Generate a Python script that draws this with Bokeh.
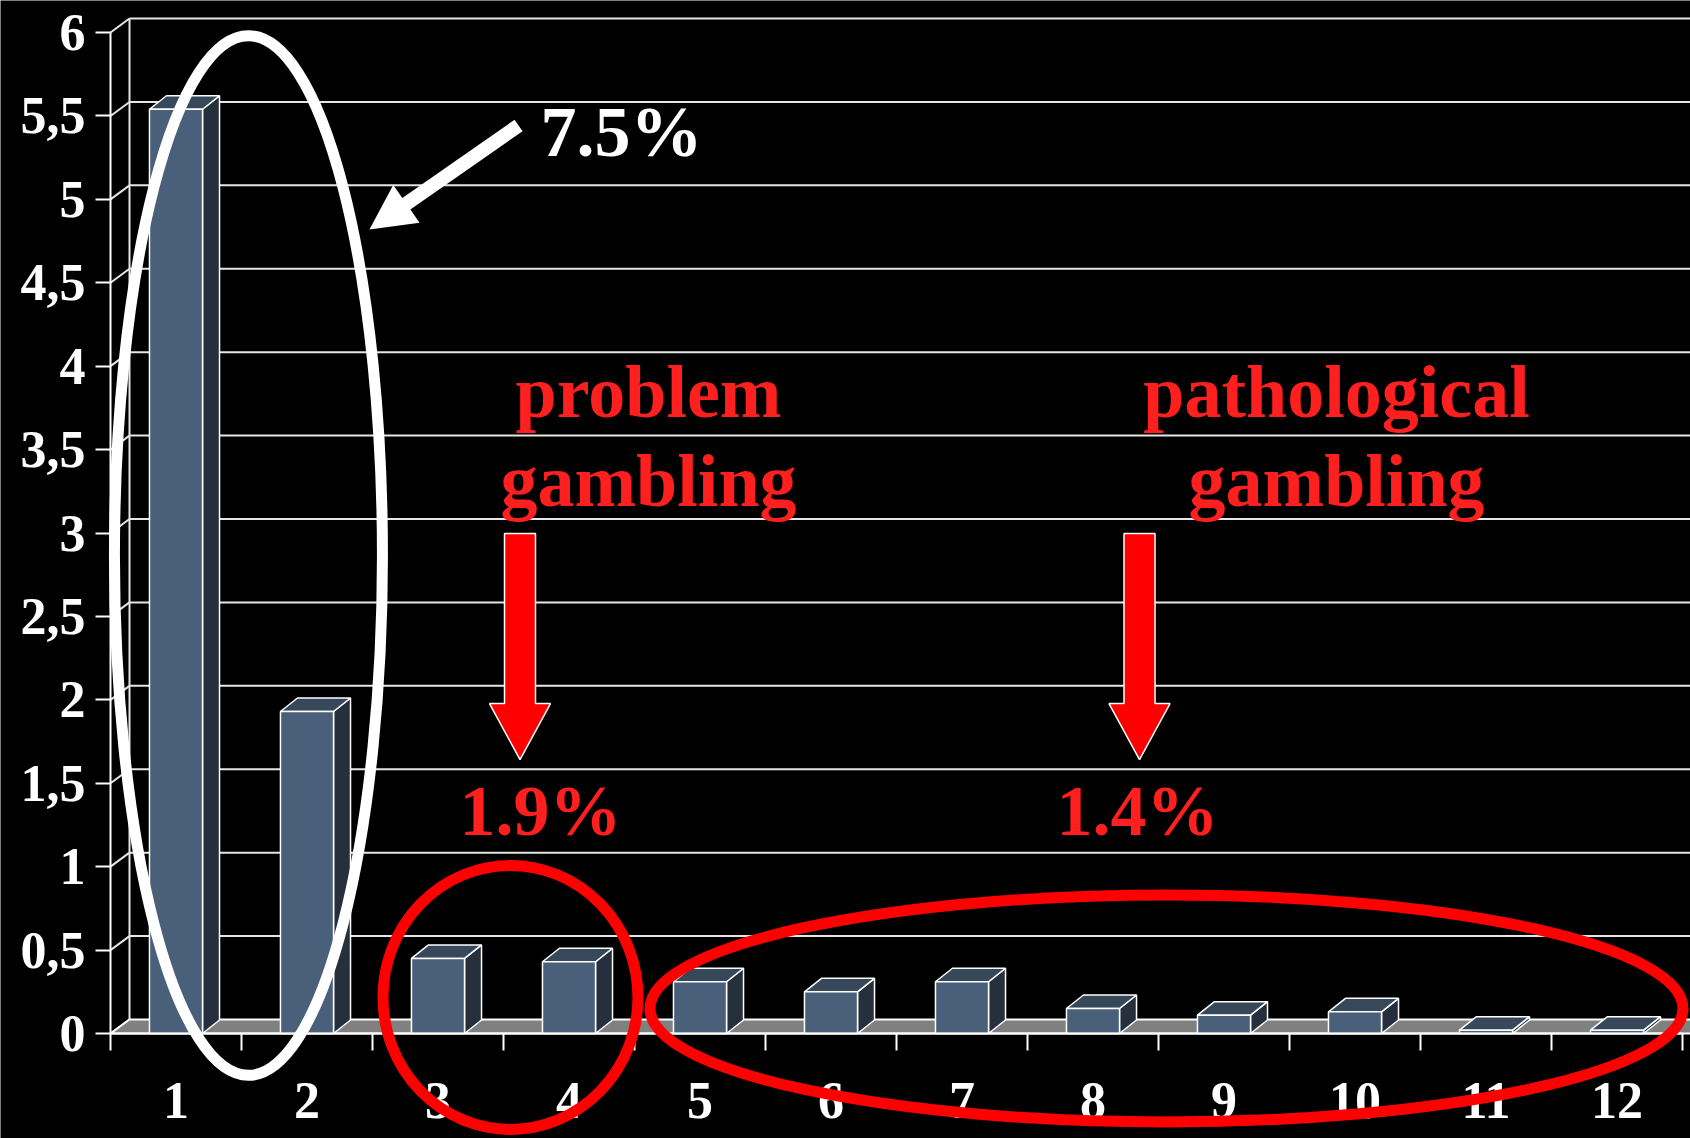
import math
from bokeh.plotting import figure
from bokeh.models import Range1d, FixedTicker, LinearAxis
from bokeh.core.properties import value
from bokeh.embed import file_html
from bokeh.resources import INLINE

# ---------------- data ----------------
categories = ["1", "2", "3", "4", "5", "6", "7", "8", "9", "10", "11", "12"]
values = [5.54, 1.93, 0.45, 0.43, 0.31, 0.25, 0.31, 0.15, 0.11, 0.13, 0.02, 0.02]
y_ticks = [0.0, 0.5, 1.0, 1.5, 2.0, 2.5, 3.0, 3.5, 4.0, 4.5, 5.0, 5.5, 6.0]
y_tick_labels = ["0", "0,5", "1", "1,5", "2", "2,5", "3", "3,5", "4", "4,5", "5", "5,5", "6"]
total_label = "7.5%"
group_titles = [["problem", "gambling"], ["pathological", "gambling"]]
group_totals = ["1.9%", "1.4%"]

# ---------------- layout / style ----------------
W, H = 1690, 1138
X0, Y0 = 110.0, 1033.0       # pixel position of x=0 / y=0
SX, SY = 131.0, 166.83       # pixels per data unit
FONT_NAME = "Liberation Serif"
FONT = value(FONT_NAME)
WALL_DX, WALL_DY = 19 / SX, 14 / SY
BAR_DX, BAR_DY = 17 / SX, 13.5 / SY
BAR_W = 0.405
GRID = "#e6e6e6"
RED = "#ff0000"
RED_TXT = "#fe1f1f"
TXT_SHIFT = 26 / SY          # baseline correction for SVG text


def to_px(x, y):
    return X0 + x * SX, Y0 - y * SY


def to_data(px, py):
    return (px - X0) / SX, (Y0 - py) / SY


p = figure(width=W, height=H,
           x_range=Range1d(-X0 / SX, (W - X0) / SX),
           y_range=Range1d(-(H - Y0) / SY, Y0 / SY),
           output_backend="svg", toolbar_location=None,
           x_axis_location=None, y_axis_location=None,
           min_border=0, outline_line_color=None,
           background_fill_color="black", border_fill_color="black")
p.grid.visible = False

n = len(categories)
x_end = (W - X0) / SX
ymax = y_ticks[-1]

# back wall gridlines
gy = [t + WALL_DY for t in y_ticks[1:]]
p.segment(x0=[WALL_DX] * len(gy), y0=gy, x1=[x_end + 1] * len(gy), y1=gy,
          line_color=GRID, line_width=2)
# left wall diagonals
p.segment(x0=[0] * len(y_ticks), y0=y_ticks,
          x1=[WALL_DX] * len(y_ticks), y1=[t + WALL_DY for t in y_ticks],
          line_color=GRID, line_width=2)
# back wall left edge
p.segment(x0=[WALL_DX], y0=[WALL_DY], x1=[WALL_DX], y1=[ymax + WALL_DY],
          line_color=GRID, line_width=2)
# floor
p.patch(x=[0, n + 1, n + 1 + WALL_DX, WALL_DX], y=[0, 0, WALL_DY, WALL_DY],
        fill_color="#808080", line_color="white", line_width=2)

# bars (3D)
centers = [i + 0.5 for i in range(n)]
side_xs, side_ys, top_xs, top_ys = [], [], [], []
for c, v in zip(centers, values):
    r = c + BAR_W / 2
    l = c - BAR_W / 2
    side_xs.append([r, r + BAR_DX, r + BAR_DX, r])
    side_ys.append([0, BAR_DY, v + BAR_DY, v])
    top_xs.append([l, r, r + BAR_DX, l + BAR_DX])
    top_ys.append([v, v, v + BAR_DY, v + BAR_DY])
p.patches(side_xs, side_ys, fill_color="#26303c", line_color="white", line_width=1.5)
p.patches(top_xs, top_ys, fill_color="#36485a", line_color="white", line_width=1.5)
p.vbar(x=centers, top=values, bottom=0, width=BAR_W,
       fill_color="#4a607a", line_color="white", line_width=1.5)

# axes
yaxis = LinearAxis(fixed_location=0, ticker=FixedTicker(ticks=y_ticks),
                   major_label_overrides={float(t): s for t, s in zip(y_ticks, y_tick_labels)},
                   bounds=(0, ymax),
                   axis_line_color="white", axis_line_width=2,
                   major_tick_out=15, major_tick_in=0,
                   major_tick_line_color="white", major_tick_line_width=2,
                   minor_tick_line_color=None,
                   major_label_text_color="white", major_label_text_font=FONT_NAME,
                   major_label_text_font_style="bold",
                   major_label_text_font_size="52px", major_label_standoff=10)
p.add_layout(yaxis, "left")

xaxis = LinearAxis(fixed_location=0,
                   ticker=FixedTicker(ticks=centers, minor_ticks=list(range(n + 1))),
                   major_label_overrides={float(c): s for c, s in zip(centers, categories)},
                   bounds=(0, n),
                   axis_line_color="white", axis_line_width=2,
                   major_tick_out=0, major_tick_in=0, major_tick_line_color=None,
                   minor_tick_out=17, minor_tick_in=0,
                   minor_tick_line_color="white", minor_tick_line_width=2,
                   major_label_text_color="white", major_label_text_font=FONT_NAME,
                   major_label_text_font_style="bold",
                   major_label_text_font_size="52px", major_label_standoff=32)
p.add_layout(xaxis, "below")

# ---------------- annotations ----------------
p.ellipse(x=[1.053], y=[2.865], width=[268], height=[1040],
          width_units="screen", height_units="screen",
          fill_color=None, line_color="white", line_width=11, level="overlay")
p.ellipse(x=[3.053, 8.061], y=[0.216, 0.150], width=[255, 1033], height=[264, 227],
          width_units="screen", height_units="screen",
          fill_color=None, line_color=RED, line_width=11, level="overlay")


def block_arrow(tail, tip, shaft_w, head_w, head_l):
    tx, ty = to_px(*tail)
    hx, hy = to_px(*tip)
    dx, dy = hx - tx, hy - ty
    L = math.hypot(dx, dy)
    ux, uy = dx / L, dy / L
    nx, ny = -uy, ux
    bx, by = hx - ux * head_l, hy - uy * head_l
    s, h = shaft_w / 2, head_w / 2
    pts = [(tx + nx * s, ty + ny * s), (bx + nx * s, by + ny * s),
           (bx + nx * h, by + ny * h), (hx, hy),
           (bx - nx * h, by - ny * h), (bx - nx * s, by - ny * s),
           (tx - nx * s, ty - ny * s)]
    d = [to_data(a, b) for a, b in pts]
    return [q[0] for q in d], [q[1] for q in d]


wx, wy = block_arrow((3.115, 5.443), (1.977, 4.819), 14, 46, 45)
p.patch(wx, wy, fill_color="white", line_color=None, level="overlay")
for ax_ in (3.126, 7.855):
    rx, ry = block_arrow((ax_, 2.997), (ax_, 1.642), 31, 61, 56)
    p.patch(rx, ry, fill_color=RED, line_color="white", line_width=1.5, level="overlay")

p.text(x=[3.282], y=[5.245 + TXT_SHIFT], text=[total_label], text_font=FONT,
       text_font_style="bold", text_font_size="72px", text_color="white",
       text_align="left", text_baseline="alphabetic", level="overlay")

title_x = [4.107, 9.359]
tx_, ty_, tt_ = [], [], []
for cx, lines in zip(title_x, group_titles):
    for k, line in enumerate(lines):
        tx_.append(cx)
        ty_.append(3.692 - k * 0.539 + TXT_SHIFT)
        tt_.append(line)
p.text(x=tx_, y=ty_, text=tt_, text_font=FONT, text_font_style="bold",
       text_font_size="74px", text_color=RED_TXT, text_align="center",
       text_baseline="alphabetic", level="overlay")
p.text(x=[3.282, 7.840], y=[1.175 + TXT_SHIFT] * 2, text=group_totals, text_font=FONT,
       text_font_style="bold", text_font_size="72px", text_color=RED_TXT,
       text_align="center", text_baseline="alphabetic", level="overlay")

open("out.html", "w").write(file_html(p, INLINE))
